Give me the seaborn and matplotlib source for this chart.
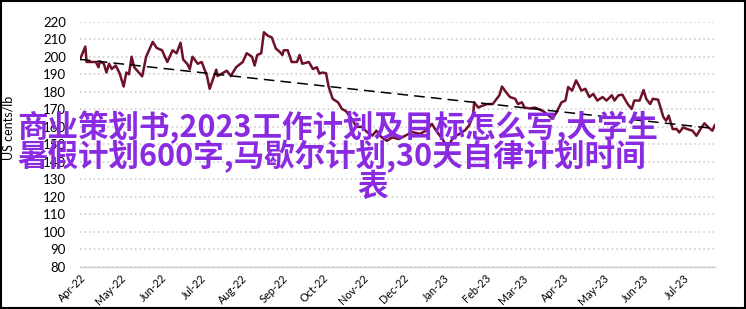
import numpy as np
import pandas as pd
import matplotlib
matplotlib.use("Agg")
import matplotlib.pyplot as plt
import matplotlib.dates as mdates
from matplotlib.patches import Rectangle
import seaborn as sns

# ---- data ----
start_date = "2022-04-01"
day_offsets = [0, 4, 5, 12, 14, 15, 18, 20, 22, 24, 27, 30, 33, 35, 37, 39, 41, 47, 50, 55,
               58, 62, 66, 70, 73, 76, 78, 81, 83, 85, 89, 92, 96, 98, 103, 104, 111, 114, 118, 123,
               126, 130, 132, 134, 137, 139, 142, 145, 148, 151, 153, 154, 157, 160, 164, 166, 168, 173, 176, 179,
               181, 183, 186, 188, 191, 195, 198, 201, 205, 209, 213, 217, 221, 224, 228, 232, 236, 241, 246, 251,
               257, 262, 266, 269, 274, 278, 282, 287, 291, 294, 297, 298, 301, 304, 308, 312, 315, 317, 319, 322,
               325, 329, 331, 334, 336, 340, 344, 347, 350, 355, 357, 360, 364, 367, 369, 372, 375, 379, 382, 385,
               388, 391, 395, 398, 402, 404, 407, 410, 414, 417, 419, 423, 426, 428, 431, 433, 437, 441, 443, 445,
               448, 451, 453, 456, 459, 463, 466, 469, 472, 475, 478, 480]
prices = [198.5, 205.8, 197, 197, 194, 197.4, 196, 191, 196, 193, 195, 190.5, 183, 191, 190, 200, 194, 188.8, 200, 208.5,
          205, 203.7, 197, 203.7, 202, 208, 198.4, 196, 193, 200, 196, 197, 189, 181.7, 192.6, 189, 192, 189, 194, 197,
          202, 200, 195, 201, 202, 214, 212, 211, 204.7, 202.8, 201, 203.7, 203.7, 197, 197, 201, 196, 197, 193, 194,
          190.3, 191, 190.6, 182.7, 176, 174, 170.2, 169, 165, 160, 160, 157, 155, 157.8, 154, 152, 154, 153, 155, 157,
          156, 158, 161.7, 158, 153, 148, 154, 156, 158, 160.6, 166, 174, 171, 172, 173, 173, 176, 178, 183, 179.8,
          177, 176, 173, 174, 171, 170.5, 171, 170, 169, 166, 164.6, 168, 174, 175, 182.7, 180.7, 186.5, 180.7, 181.7, 177,
          178.8, 175, 177, 175, 178, 175, 178, 178.3, 173, 170.2, 175, 175, 181, 176, 173, 176, 175.5, 165.5, 163.5, 166.4,
          158.7, 158.7, 156.8, 159.7, 158.7, 157.8, 154.9, 158.7, 162, 159.7, 157.8, 161.2]
trend_days = [0, 480]
trend_values = [198.5, 159.0]
y_ticks = [80, 90, 100, 110, 120, 130, 140, 150, 160, 170, 180, 190, 200, 210, 220]
y_label = "US cents/lb"
overlay_lines = ["商业策划书,2023工作计划及目标怎么写,大学生",
                 "暑假计划600字,马歇尔计划,30天自律计划时间",
                 "表"]

base = pd.Timestamp(start_date)
df = pd.DataFrame({"date": base + pd.to_timedelta(day_offsets, unit="D"), "price": prices})
trend = pd.DataFrame({"date": base + pd.to_timedelta(trend_days, unit="D"), "price": trend_values})

# ---- style ----
sns.set_style("white")
plt.rcParams["font.family"] = ["Lato", "DejaVu Sans"]

W, H = 746, 309
fig = plt.figure(figsize=(W / 100, H / 100), dpi=100)
ax = fig.add_axes([80 / W, 1 - 267 / H, (715 - 80) / W, (267 - 21.7) / H])

sns.lineplot(data=df, x="date", y="price", ax=ax, color="#6d1028", linewidth=1.8, zorder=3)
sns.lineplot(data=trend, x="date", y="price", ax=ax, color="black", linewidth=1.1,
             linestyle=(0, (7, 4)), zorder=4)

ax.set_ylim(80, 220)
ax.set_xlim(trend["date"].iloc[0], trend["date"].iloc[-1])
ax.set_yticks(y_ticks)
ax.yaxis.grid(True, color="#c8c8c8", linestyle=(0, (1, 2)), linewidth=1.1)
ax.xaxis.grid(False)
for s in ["top", "right", "left"]:
    ax.spines[s].set_visible(False)
ax.spines["bottom"].set_color("#d0d0d0")
ax.spines["bottom"].set_linewidth(1.0)
ax.set_xlabel("")
ax.set_ylabel("")

ax.xaxis.set_major_locator(mdates.MonthLocator())
ax.xaxis.set_major_formatter(mdates.DateFormatter("%b-%y"))
ax.tick_params(axis="both", length=0, colors="black")
ax.tick_params(axis="y", labelsize=9.5, pad=10)
ax.tick_params(axis="x", labelsize=7.8, pad=4)
for lab in ax.get_xticklabels():
    lab.set_rotation(45)
    lab.set_ha("right")
    lab.set_rotation_mode("anchor")

fig.text(9 / W, 1 - 128 / H, y_label, rotation=90, ha="center", va="center", fontsize=9, color="black")

# overlay text
purple = "#8a2be2"
cjk = ["Noto Sans CJK SC", "DejaVu Sans"]
fig.text(17 / W, 1 - 127 / H, overlay_lines[0], ha="left", va="center", fontsize=22,
         color=purple, family=cjk, fontweight="bold")
fig.text(17 / W, 1 - 157 / H, overlay_lines[1], ha="left", va="center", fontsize=22,
         color=purple, family=cjk, fontweight="bold")
fig.text(373 / W, 1 - 187 / H, overlay_lines[2], ha="center", va="center", fontsize=22,
         color=purple, family=cjk, fontweight="bold")

fig.patches.append(Rectangle((0.001, 0.002), 0.997, 0.995, transform=fig.transFigure,
                             fill=False, edgecolor="black", linewidth=1.5))

fig.savefig("out.png", dpi=100)
